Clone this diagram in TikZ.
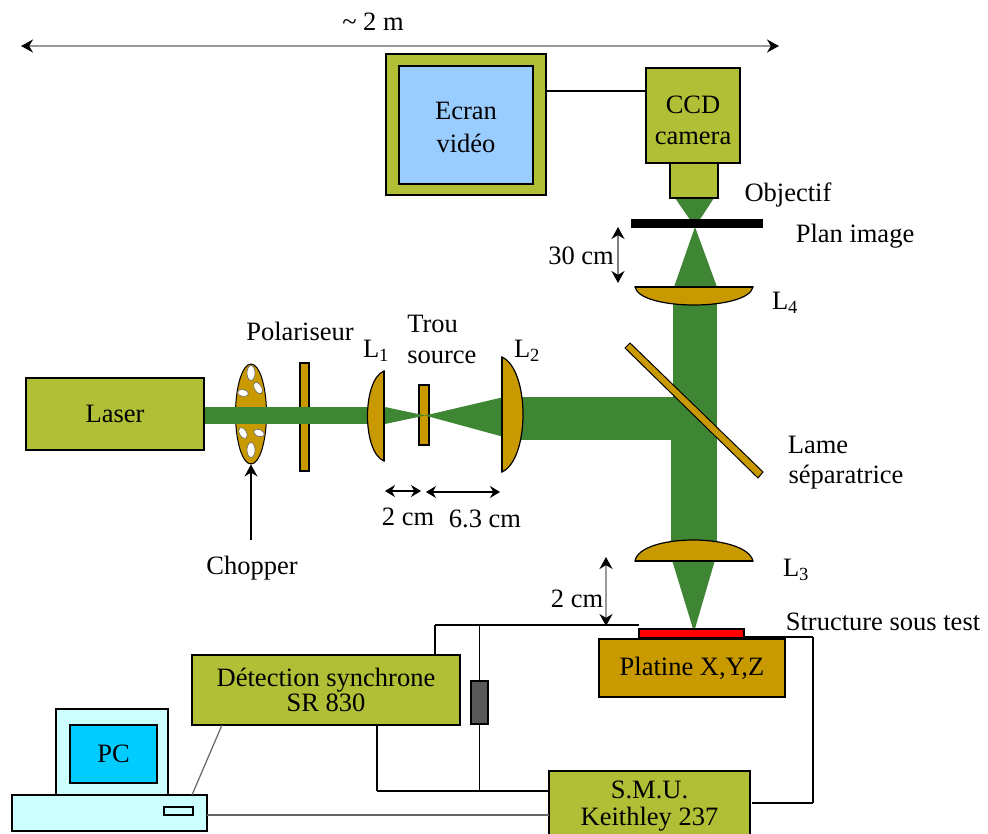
\documentclass[tikz,border=0pt]{standalone}
\usepackage{fontspec}
\setmainfont{Liberation Serif}
\usetikzlibrary{arrows,arrows.meta,shapes}
\definecolor{olivebox}{RGB}{176,191,54}
\definecolor{lensgold}{RGB}{201,154,0}
\definecolor{beamgreen}{RGB}{62,133,52}
\definecolor{skyscreen}{RGB}{153,204,255}
\definecolor{pcbody}{RGB}{204,255,255}
\definecolor{pcscreen}{RGB}{0,204,255}
\tikzset{
  box/.style={shape=rectangle,draw=black,fill=olivebox,line width=1.4pt,inner sep=0pt,outer sep=0pt,align=center},
  optic/.style={draw=black,fill=lensgold,line width=1.2pt},
  flat/.style={draw=black,line width=2.6pt},
  beam/.style={fill=beamgreen},
  wire/.style={-,draw=black,line width=1.3pt},
  graywire/.style={-,draw=black!60,line width=1.2pt},
  dim/.style={{Stealth[length=10pt,width=12pt]}-{Stealth[length=10pt,width=12pt]},draw=black,line width=1.2pt},
  graydim/.style={dim,draw=black!40,line width=2pt,{Stealth[length=12pt,width=13pt,black]}-{Stealth[length=12pt,width=13pt,black]}},
  label/.style={inner sep=0pt},
  hole/.style={shape=ellipse,draw=black!60,fill=white,line width=.6pt,inner sep=0pt}
}
\begin{document}
\begin{tikzpicture}[x=1pt,y=-1pt,semithick]
                \useasboundingbox (0,0) rectangle (988,834);
                \fontsize{26.5}{28}\selectfont
                \node[shape=ellipse,draw=black,fill=lensgold,line width=1pt,inner sep=0pt,minimum width=31pt,minimum height=100pt](Chopper)at(251, 414){};
                \node[optic,shape=rectangle,inner sep=0pt,minimum width=9pt,minimum height=108pt](Polar)at(304.5, 417){};
                \node[optic,shape=rectangle,inner sep=0pt,minimum width=10pt,minimum height=60pt](Trou)at(424, 415){};
                \fill[beam] (204,407) rectangle (370,424);
                \fill[beam] (385,407) -- (425,415.5) -- (385,424) -- cycle;
                \fill[beam] (504,397) -- (425,415.5) -- (504,437) -- cycle;
                \fill[beam] (515,397) rectangle (671,440);
                \fill[beam] (673,300) rectangle (717,397);
                \fill[beam] (671,397) rectangle (717,545);
                \fill[beam] (675,198) -- (714,198) -- (695,227) -- (717,287) -- (674,287) -- (695,227) -- cycle;
                \fill[beam] (672,560) -- (715,560) -- (694,632) -- cycle;
                \node[hole,minimum width=8pt,minimum height=15pt](HoleA)at(251, 373){};
                \node[hole,rotate=30,minimum width=7pt,minimum height=13pt](HoleB)at(258, 388){};
                \node[hole,rotate=80,minimum width=7pt,minimum height=11pt](HoleC)at(243, 393){};
                \node[hole,rotate=30,minimum width=7pt,minimum height=12pt](HoleD)at(243, 433){};
                \node[hole,rotate=70,minimum width=7pt,minimum height=11pt](HoleE)at(259, 433){};
                \node[hole,minimum width=8pt,minimum height=15pt](HoleF)at(251, 450){};
                \draw[optic] (384,371) .. controls (362,380) and (362,452) .. (384,461) -- cycle;
                \draw[flat] (384,371) -- (384,461);
                \draw[optic] (502,357) .. controls (530,370) and (530,459) .. (502,472) -- cycle;
                \draw[flat] (502,357) -- (502,472);
                \draw[optic] (635,287) .. controls (640,311) and (748,311) .. (753,287) -- cycle;
                \draw[flat] (635,287) -- (753,287);
                \draw[optic] (635,561) .. controls (640,533) and (746,533) .. (753,561) -- cycle;
                \draw[flat] (635,561) -- (753,561);
                \draw[optic,line width=1pt] (625,348) -- (630,343) -- (763,472) -- (758,478) -- cycle;
                \fill[black] (631,219) rectangle (763,228);
                \node[box,minimum width=160pt,minimum height=141pt](EcranCase)at(466, 124.5){};
                \node[box,fill=skyscreen,minimum width=134pt,minimum height=118pt](Ecran)at(466, 125){};
                \node[label,align=center](EcranLabel)at(466, 127){Ecran\\[5pt]vidéo};
                \node[box,minimum width=94pt,minimum height=95pt](CCD)at(693, 115.5){};
                \node[label,align=center](CCDLabel)at(693, 120){CCD\\[3pt]camera};
                \node[box,minimum width=48pt,minimum height=35pt](Objectif)at(694, 180.5){};
                \node[box,minimum width=178pt,minimum height=72pt](Laser)at(115, 414){Laser};
                \node[box,minimum width=268pt,minimum height=70pt](Detection)at(326, 690){Détection synchrone\\[-3pt]SR 830};
                \node[box,minimum width=201pt,minimum height=70pt](SMU)at(649.5, 806){S.M.U.\\[-1pt]Keithley 237};
                \node[box,fill=lensgold,minimum width=186pt,minimum height=58pt](Platine)at(692, 668){Platine X,Y,Z};
                \node[box,fill=red,minimum width=105pt,minimum height=9pt](Structure)at(691.5, 633.5){};
                \node[box,fill=black!65,minimum width=17pt,minimum height=43pt](Resistor)at(479.5, 702.5){};
                \node[box,fill=pcbody,minimum width=112pt,minimum height=86pt](Monitor)at(112, 752){};
                \node[box,fill=pcscreen,minimum width=87pt,minimum height=58pt](Screen)at(113.5, 754){PC};
                \node[box,fill=pcbody,minimum width=195pt,minimum height=36pt](Base)at(109.5, 813){};
                \node[box,fill=pcbody,line width=1.1pt,minimum width=29pt,minimum height=8pt](Slot)at(178.5, 811){};
                \coordinate (EcranOut) at (546,91);
                \coordinate (CCDIn) at (646,91);
                \coordinate (DetTop) at (435,655);
                \coordinate (StructLeft) at (639,625);
                \coordinate (JoinTop) at (479.5,625);
                \coordinate (JoinBottom) at (479.5,791);
                \coordinate (DetBottom) at (377,725);
                \coordinate (SMUIn) at (549,791);
                \coordinate (SMUOut) at (752,803);
                \coordinate (StructRight) at (745,637);
                \coordinate (RightTop) at (813,637);
                \coordinate (RightBottom) at (813,803);
                \coordinate (PCLink) at (192,795);
                \coordinate (DetLink) at (222,725);
                \coordinate (BaseOut) at (207,815);
                \coordinate (SMUBack) at (549,815);
                \path[wire] (DetTop) edge (DetTop|-StructLeft)
                (DetTop|-StructLeft) edge (StructLeft)
                (JoinTop) edge (Resistor.north)
                (Resistor.south) edge (JoinBottom)
                (DetBottom) edge (DetBottom|-SMUIn)
                (DetBottom|-SMUIn) edge (SMUIn)
                (SMUOut) edge (RightBottom)
                (RightBottom) edge (RightTop)
                (RightTop) edge (StructRight);
                \path[wire,line width=2.4pt] (EcranOut) edge (CCDIn);
                \path[graywire] (PCLink) edge (DetLink)
                (BaseOut) edge (SMUBack);
                \node[label](TotalLabel)at(373, 22){\textasciitilde{} 2 m};
                \coordinate (TotalLeft) at (21,46);
                \coordinate (TotalRight) at (779,46);
                \draw[graydim] (TotalLeft) -- (TotalRight);
                \node[label](PolarLabel)at(300, 331){Polariseur};
                \node[label](LOne)at(376, 351){L\textsubscript{1}};
                \node[label,align=left,anchor=west](TrouLabel)at(407, 339){Trou\\[3pt]source};
                \node[label](LTwo)at(527, 351){L\textsubscript{2}};
                \node[label](ChopperLabel)at(252, 568){Chopper};
                \draw[-{Stealth[length=12pt,width=13pt]},line width=1.1pt] (251,540) -- (Chopper.south);
                \draw[dim] (385,491) -- (421,491);
                \draw[dim] (426,492) -- (500,492);
                \node[label](DimTwo)at(408, 517){2 cm};
                \node[label](DimSix)at(485, 519){6.3 cm};
                \node[label](ObjectifLabel)at(788, 195){Objectif};
                \node[label](PlanLabel)at(855, 236){Plan image};
                \node[label](DimThirty)at(581, 256){30 cm};
                \draw[dim,draw=black!50,line width=1.6pt,{Stealth[length=12pt,width=13pt,black]}-{Stealth[length=12pt,width=13pt,black]}] (618,227) -- (618,283);
                \node[label](LFour)at(785, 303){L\textsubscript{4}};
                \node[label](LameLabel)at(818, 445){Lame};
                \node[label](SepLabel)at(846, 477){séparatrice};
                \node[label](LThree)at(796, 570){L\textsubscript{3}};
                \node[label](DimSample)at(577, 599){2 cm};
                \draw[dim,draw=black!40,line width=1.6pt,{Stealth[length=12pt,width=13pt,black]}-{Stealth[length=12pt,width=13pt,black]}] (606,557) -- (606,626);
                \node[label](StructLabel)at(883, 622){Structure sous test};
            \end{tikzpicture}
\end{document}
